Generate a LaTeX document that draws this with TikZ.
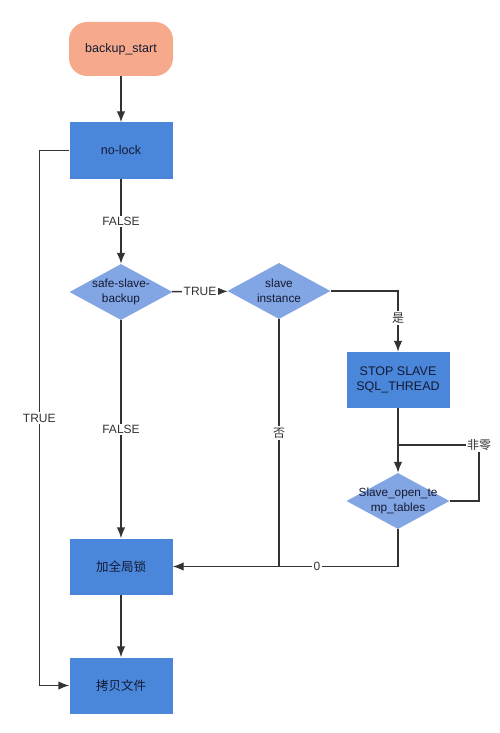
\documentclass[tikz,border=0pt]{standalone}
\usepackage{fontspec}
\setmainfont{Liberation Sans}
\newfontfamily\cjk{Noto Sans CJK SC}
\usetikzlibrary{shapes.geometric,arrows.meta}
\definecolor{startcol}{HTML}{F7A98C}
\definecolor{boxcol}{HTML}{4A86DA}
\definecolor{deccol}{HTML}{82A5E3}
\definecolor{txtcol}{HTML}{141A33}
\definecolor{linecol}{HTML}{333333}
\begin{document}
\begin{tikzpicture}[x=1pt,y=-1pt,
  startbox/.style={fill=startcol, rounded corners=18pt, minimum width=104pt, minimum height=54pt, text=txtcol, font=\fontsize{12.5}{15}\selectfont},
  procbox/.style={fill=boxcol, minimum width=103pt, minimum height=56pt, align=center, text=txtcol, font=\fontsize{12.5}{15}\selectfont},
  decision/.style={diamond, fill=deccol, minimum width=103pt, minimum height=56pt, inner sep=0pt},
  dectext/.style={align=center, inner sep=0pt, text=txtcol, font=\fontsize{11.8}{14.5}\selectfont},
  line/.style={draw=linecol, line width=1.4pt},
  flow/.style={line, -{Latex[length=11pt,width=8.5pt]}},
  lbl/.style={fill=white, inner sep=1.5pt, text=linecol, font=\fontsize{12}{14}\selectfont}]
\useasboundingbox (0,0) rectangle (500,733);
% nodes
\node[startbox] (start) at (121,49) {backup\_start};
\node[procbox] (nolock) at (121,150.5) {no-lock};
\node[decision] (safe) at (121,292) {};
\node[dectext] (safetxt) at (safe) {safe-slave-\\backup};
\node[decision] (inst) at (279,291) {};
\node[dectext] (insttxt) at (inst) {slave\\instance};
\node[procbox] (stop) at (398,380) {STOP SLAVE\\SQL\_THREAD};
\node[decision] (temp) at (398,501) {};
\node[dectext] (temptxt) at (temp) {Slave\_open\_te\\mp\_tables};
\node[procbox] (lock) at (121,566.5) {\cjk 加全局锁};
\node[procbox] (copy) at (121,685.5) {\cjk 拷贝文件};
\coordinate (nzcorner) at (479,445);
\coordinate (nzjoin) at (398,445);
\coordinate (nojoin) at (inst.south |- lock.east);
% connectors
\draw[flow] (start) -- (nolock);
\draw[flow] (nolock) -- node[lbl] {FALSE} (safe);
\draw[flow] (nolock.west) -- ++(-30,0) |- node[lbl, pos=0.25] {TRUE} (copy.west);
\draw[flow] (safe) -- node[lbl] {TRUE} (inst);
\draw[flow] (safe) -- node[lbl] {FALSE} (lock);
\draw[flow] (inst.east) -| node[lbl, pos=0.72] {\cjk 是} (stop);
\draw[line] (inst.south) -- node[lbl, pos=0.46] {\cjk 否} (nojoin);
\draw[flow] (stop) -- (temp);
\draw[line] (temp.east) -| (nzcorner) node[lbl] {\cjk 非零} -- (nzjoin);
\draw[flow] (temp.south) |- node[lbl, pos=0.68] {0} (lock.east);
\draw[flow] (lock) -- (copy);
\end{tikzpicture}
\end{document}
